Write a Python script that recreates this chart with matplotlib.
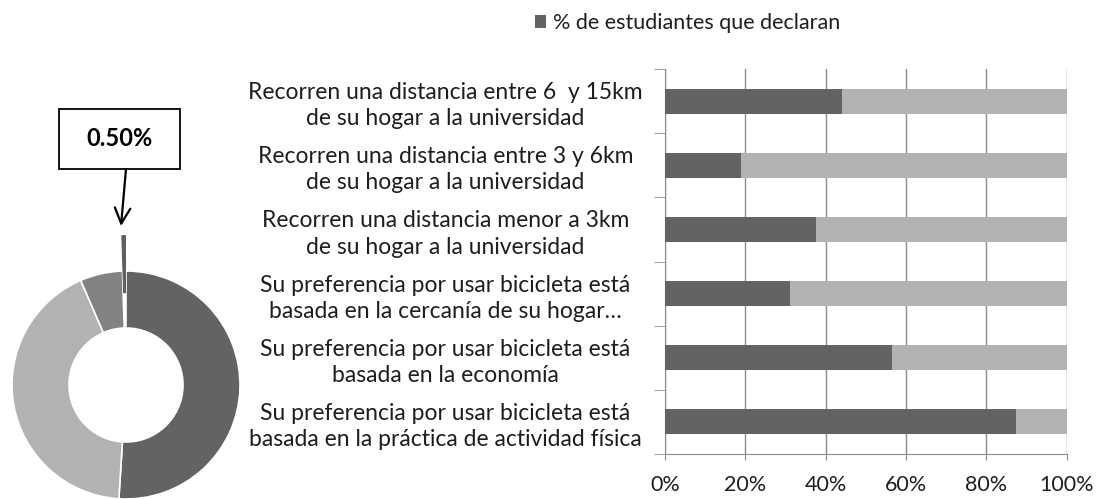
import matplotlib.pyplot as plt
from matplotlib.patches import Rectangle

plt.rcParams["font.family"] = ["Lato", "DejaVu Sans"]

# donut: share of students (clockwise from the top)
donut_values = [51.0, 42.5, 6.0, 0.5]
donut_colors = ["#636363", "#b2b2b2", "#828282", "#5f5f5f"]
donut_label = "0.50%"

# stacked bars
categories = [
    "Recorren una distancia entre 6  y 15km\nde su hogar a la universidad",
    "Recorren una distancia entre 3 y 6km\nde su hogar a la universidad",
    "Recorren una distancia menor a 3km\nde su hogar a la universidad",
    "Su preferencia por usar bicicleta está\nbasada en la cercanía de su hogar…",
    "Su preferencia por usar bicicleta está\nbasada en la economía",
    "Su preferencia por usar bicicleta está\nbasada en la práctica de actividad física",
]
declare = [44.0, 19.0, 37.5, 31.0, 56.5, 87.5]
rest = [100 - v for v in declare]
legend_label = "% de estudiantes que declaran"
xticks = [0, 20, 40, 60, 80, 100]

DARK = "#636363"
LIGHT = "#b2b2b2"
GRID = "#8c8c8c"
TXT = "#1e1e1e"

W, H = 1098, 499
fig = plt.figure(figsize=(W / 100, H / 100), dpi=100)

# ---- donut (1 data unit = 114 px, centre at px (126, 385))
R = 114.0
cx, cy = 126.0, 385.0
axp = fig.add_axes([0, 0, 250 / W, 400 / H])
axp.axis("off")
wedges, _ = axp.pie(donut_values, colors=donut_colors, startangle=90, counterclock=False,
                    explode=[0, 0, 0, 0.31], radius=1.0,
                    wedgeprops=dict(width=0.5, edgecolor="white", linewidth=1.2))
for w in wedges:
    w.set_clip_on(False)
# the tiny slice keeps its own colour as outline so it stays visible
wedges[-1].set_edgecolor(donut_colors[-1])
wedges[-1].set_linewidth(0.8)
axp.set_aspect("auto")
axp.set_xlim(-cx / R, (250 - cx) / R)
axp.set_ylim((cy - H) / R, (cy - 99) / R)


def px(x, y):
    return (x - cx) / R, (cy - y) / R


x0, y0 = px(59, 169)
x1, y1 = px(180, 109)
axp.add_patch(Rectangle((x0, y0), x1 - x0, y1 - y0, fc="white", ec="black", lw=1.3, clip_on=False))
axp.text((x0 + x1) / 2, (y0 + y1) / 2, donut_label, ha="center", va="center",
         fontsize=17, fontweight="bold", color="black")
axp.annotate("", xy=px(121, 226), xytext=px(126, 169),
             arrowprops=dict(arrowstyle="->", lw=1.6, color="black", mutation_scale=28,
                             shrinkA=0, shrinkB=0))

# ---- stacked bars
ax = fig.add_axes([665 / W, 1 - 454 / H, (1066.7 - 665) / W, (454 - 69) / H])
y = list(range(len(categories)))
ax.barh(y, declare, height=0.39, color=DARK, label=legend_label, zorder=3)
ax.barh(y, rest, left=declare, height=0.39, color=LIGHT, zorder=3)
ax.set_ylim(len(categories) - 0.5, -0.5)
ax.set_xlim(0, 100)
ax.set_xticks(xticks)
ax.set_xticklabels([f"{t}%" for t in xticks], fontsize=15.5, color=TXT)
ax.set_yticks(y)
ax.set_yticklabels(categories, fontsize=16.5, color=TXT, ha="center", linespacing=1.3)
ax.tick_params(axis="y", which="major", length=0, pad=158)
ax.set_yticks([i - 0.5 for i in range(len(categories) + 1)], minor=True)
ax.tick_params(axis="y", which="minor", length=8, color=GRID)
ax.tick_params(axis="x", length=4, color=GRID, pad=11)
ax.grid(axis="x", color=GRID, lw=1.0, zorder=0)
for s in ["top", "right"]:
    ax.spines[s].set_visible(False)
for s in ["left", "bottom"]:
    ax.spines[s].set_color(GRID)

fig.legend(loc="upper center", bbox_to_anchor=(0.626, 1.012), frameon=False, fontsize=15.5,
           handlelength=0.55, handleheight=0.55, handletextpad=0.3, labelcolor=TXT)

fig.savefig("out.png", dpi=100)
